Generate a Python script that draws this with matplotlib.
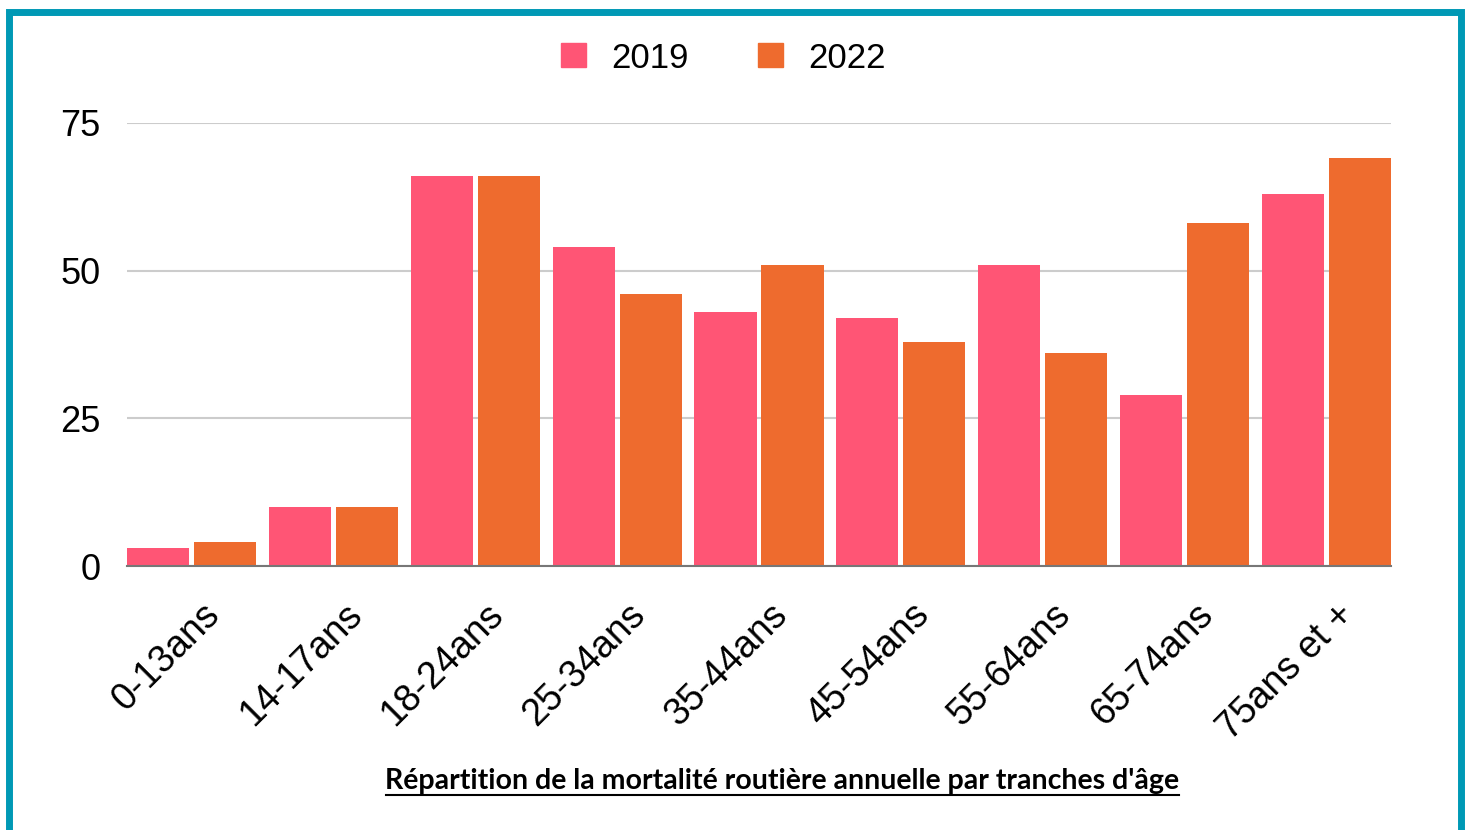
import matplotlib.pyplot as plt
from matplotlib.patches import Rectangle, Patch
from matplotlib.lines import Line2D
import matplotlib.transforms as mtransforms
import numpy as np

categories = ["0-13ans", "14-17ans", "18-24ans", "25-34ans", "35-44ans",
              "45-54ans", "55-64ans", "65-74ans", "75ans et +"]
values_2019 = [3, 10, 66, 54, 43, 42, 51, 29, 63]
values_2022 = [4, 10, 66, 46, 51, 38, 36, 58, 69]
y_ticks = [0, 25, 50, 75]

PINK = "#FF5575"
ORANGE = "#EE6B2E"
TEAL = "#0099B5"

W, H = 1468, 830
fig = plt.figure(figsize=(W / 100, H / 100), dpi=100)
ax = fig.add_axes([127 / W, 1 - 566 / H, (1391 - 127) / W, (566 - 123) / H])

x = np.arange(len(categories))
bw = 0.438
gap = 0.035
off = (bw + gap) / 2
ax.bar(x - off, values_2019, bw, color=PINK, zorder=3)
ax.bar(x + off, values_2022, bw, color=ORANGE, zorder=3)

ax.set_xlim(-(2 * bw + gap) / 2, len(categories) - 1 + (2 * bw + gap) / 2)
ax.set_ylim(0, 75)
ax.set_yticks(y_ticks)
ax.set_yticklabels([str(v) for v in y_ticks], fontsize=26, family="Liberation Sans")
ax.tick_params(axis="y", length=0, pad=19)
ax.grid(axis="y", color="#CCCCCC", linewidth=1.5, zorder=0)
for s in ["top", "right", "left"]:
    ax.spines[s].set_visible(False)
ax.spines["bottom"].set_color("#777777")
ax.spines["bottom"].set_linewidth(1.5)
ax.spines["bottom"].set_zorder(4)

ax.set_xticks(x)
ax.set_xticklabels(categories, rotation=45, ha="right", va="top",
                   rotation_mode="anchor", fontsize=27, family="Liberation Sans")
ax.tick_params(axis="x", length=0, pad=22)
shift = mtransforms.ScaledTranslation(10 / 100, 0, fig.dpi_scale_trans)
for lbl in ax.get_xticklabels():
    lbl.set_transform(lbl.get_transform() + shift)

handles = [Patch(color=PINK, label="2019"), Patch(color=ORANGE, label="2022")]
fig.legend(handles=handles, loc="center", bbox_to_anchor=(0.493, 1 - 58 / H),
           ncol=2, frameon=False, prop={"family": "Liberation Sans", "size": 25},
           handlelength=0.7, handleheight=0.7, handletextpad=0.75, columnspacing=2.0)

fig.text(782 / W, 1 - 781 / H, "Répartition de la mortalité routière annuelle par tranches d'âge",
         ha="center", va="center", fontsize=20.5, fontweight="bold", family="Lato")
fig.add_artist(Line2D([386 / W, 1179 / W], [1 - 795 / H, 1 - 795 / H],
                      color="black", linewidth=1.5, transform=fig.transFigure))

fig.add_artist(Rectangle((9 / W, -0.05), (1461 - 9) / W, 1.05 - 12 / H,
                         transform=fig.transFigure, fill=False,
                         edgecolor=TEAL, linewidth=5.0))

fig.savefig("out.png", dpi=100)
